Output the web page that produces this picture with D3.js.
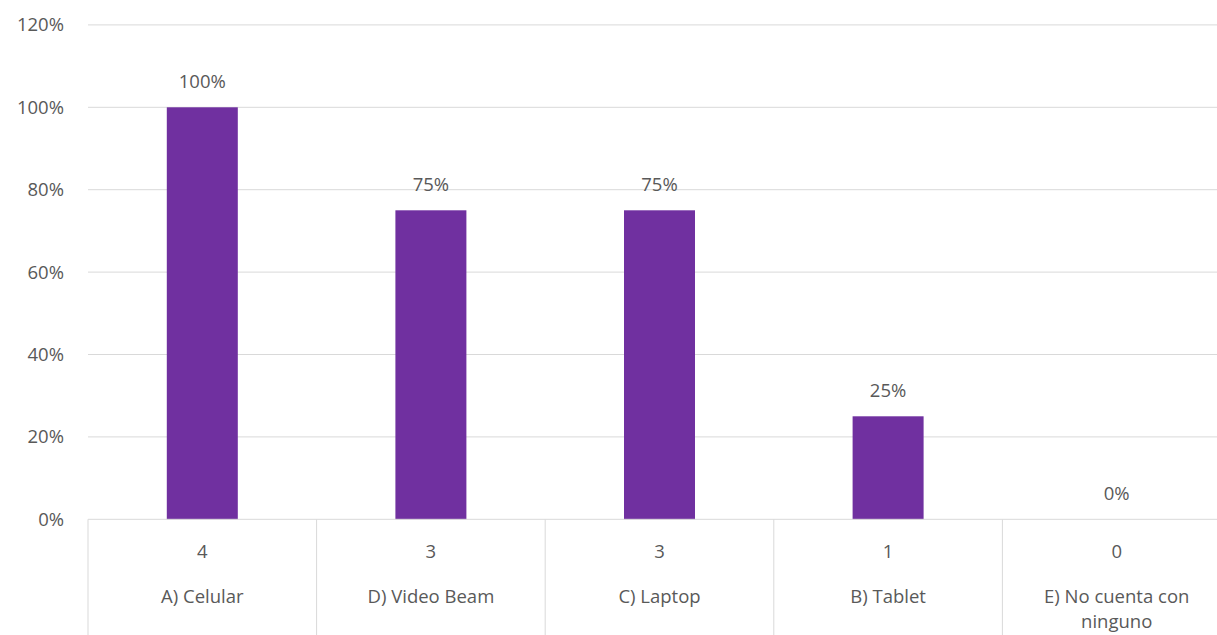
<!DOCTYPE html>
<html><head><meta charset="utf-8">
<script src="https://cdn.jsdelivr.net/npm/d3@7"></script>
<style>body{margin:0;background:#fff;} svg{display:block;font-family:"Open Sans",sans-serif;}</style>
</head><body>
<svg id="c" width="1217" height="635"></svg>
<script>
const categories = ["A) Celular","D) Video Beam","C) Laptop","B) Tablet","E) No cuenta con ninguno"];
const counts = [4,3,3,1,0];
const percents = [1.00,0.75,0.75,0.25,0.00];
const yTicks = [0,0.2,0.4,0.6,0.8,1.0,1.2];

const svg = d3.select("#c");
const left = 88, catW = 228.6, top0 = 519.3;
const x = d3.scaleBand().domain(categories).range([left, left + catW*categories.length]).paddingInner(0).paddingOuter(0);
const y = d3.scaleLinear().domain([0,1.2]).range([top0, 24.9]);
const grid = "#d9d9d9", txt = "#595959", fs = 18.5;

// gridlines
svg.append("g").selectAll("line").data(yTicks.filter(d=>d>0)).join("line")
  .attr("x1", left).attr("x2", 1217).attr("y1", d=>y(d)).attr("y2", d=>y(d))
  .attr("stroke", grid).attr("stroke-width", 1);

// y labels
svg.append("g").selectAll("text").data(yTicks).join("text")
  .attr("x", 64).attr("y", d=>y(d)).attr("dy","0.35em").attr("text-anchor","end")
  .attr("fill", txt).attr("font-size", fs).text(d=>d3.format(".0%")(d));

// bars
const bw = 71;
svg.append("g").selectAll("rect").data(percents).join("rect")
  .attr("x", (d,i)=>x(categories[i]) + x.bandwidth()/2 - bw/2)
  .attr("width", bw)
  .attr("y", d=>y(d)).attr("height", d=>y(0)-y(d))
  .attr("fill", "#7030a0");

// value labels
svg.append("g").selectAll("text").data(percents).join("text")
  .attr("x", (d,i)=>x(categories[i]) + x.bandwidth()/2)
  .attr("y", d=>y(d) - 19).attr("text-anchor","middle")
  .attr("fill", txt).attr("font-size", fs).text(d=>d3.format(".0%")(d));

// table lines
svg.append("line").attr("x1", left).attr("x2", 1217).attr("y1", y(0)).attr("y2", y(0)).attr("stroke", grid);
svg.append("g").selectAll("line").data(categories).join("line")
  .attr("x1", d=>x(d)).attr("x2", d=>x(d)).attr("y1", y(0)).attr("y2", 635)
  .attr("stroke", grid);

// counts
svg.append("g").selectAll("text").data(counts).join("text")
  .attr("x", (d,i)=>x(categories[i]) + x.bandwidth()/2).attr("y", 558)
  .attr("text-anchor","middle").attr("fill", txt).attr("font-size", fs).text(d=>d);

// category labels (wrap)
const lines = {"E) No cuenta con ninguno":["E) No cuenta con","ninguno"]};
categories.forEach(c=>{
  const ls = lines[c] || [c];
  const t = svg.append("text").attr("text-anchor","middle").attr("fill", txt).attr("font-size", fs);
  ls.forEach((l,k)=>t.append("tspan").attr("x", x(c)+x.bandwidth()/2).attr("y", 603 + k*25).text(l));
});
</script>
</body></html>
